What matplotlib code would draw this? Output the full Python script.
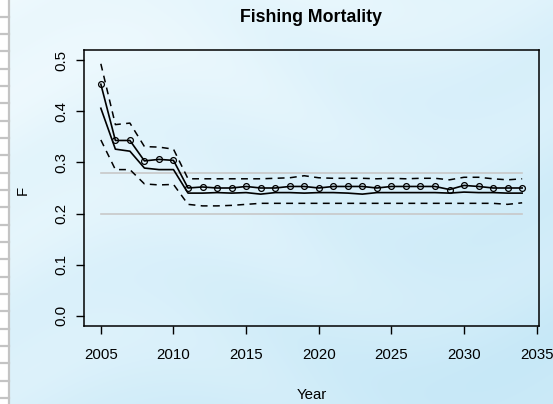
import numpy as np
import matplotlib.pyplot as plt

plt.rcParams['font.family'] = ['Liberation Sans', 'DejaVu Sans']

years = np.arange(2005, 2035)
# median F (points)
f_median = [0.453, 0.343, 0.343, 0.303, 0.306, 0.304,
            0.250, 0.252, 0.250, 0.250, 0.253,
            0.250, 0.250, 0.253, 0.253, 0.250, 0.253, 0.253, 0.253, 0.250, 0.253,
            0.253, 0.253, 0.253, 0.247, 0.255, 0.253, 0.250, 0.250, 0.250]
# second solid line
f_mean = [0.406, 0.326, 0.322, 0.289, 0.286, 0.286,
          0.240, 0.240, 0.241, 0.240, 0.241, 0.238, 0.241, 0.241, 0.240, 0.241,
          0.241, 0.240, 0.238, 0.241, 0.241, 0.241, 0.241, 0.241, 0.240, 0.242,
          0.241, 0.241, 0.240, 0.240]
f_upper = [0.493, 0.374, 0.377, 0.331, 0.330, 0.326,
           0.268, 0.268, 0.268, 0.268, 0.268, 0.268, 0.269, 0.270, 0.274, 0.270,
           0.269, 0.269, 0.269, 0.268, 0.269, 0.268, 0.269, 0.269, 0.266, 0.271,
           0.271, 0.268, 0.266, 0.268]
f_lower = [0.344, 0.286, 0.286, 0.258, 0.256, 0.257,
           0.218, 0.215, 0.215, 0.216, 0.218, 0.220, 0.220, 0.220, 0.220, 0.220,
           0.220, 0.220, 0.220, 0.220, 0.220, 0.220, 0.220, 0.220, 0.220, 0.220,
           0.220, 0.220, 0.218, 0.221]
ref_levels = [0.28, 0.2]

W, H = 553, 404
fig = plt.figure(figsize=(W / 100, H / 100), dpi=100)

# background: pale water-like gradient
bg = fig.add_axes([0, 0, 1, 1])
yy, xx = np.mgrid[0:H, 0:W]
t = 0.55 * yy / H + 0.45 * xx / W
wave = 0.5 + 0.5 * np.sin(yy / 23.0 + 2.5 * np.sin(xx / 90.0))
t = np.clip(t + 0.15 * (wave - 0.5), 0, 1)
light = np.array([0.94, 0.98, 0.995])
dark = np.array([0.78, 0.91, 0.97])
img = light + (dark - light) * t[..., None]
bg.imshow(img, extent=[0, W, H, 0], aspect='auto')
bg.fill_between([0, 7.5], 0, H, color='white')
bg.plot([8.5, 8.5], [0, H], color='#c4c4c4', lw=1.6)
for k in range(24):
    y = 16.7 + 17.33 * k
    bg.plot([0, 8.5], [y, y], color='#c4c4c4', lw=1.6)
bg.set_xlim(0, W)
bg.set_ylim(H, 0)
bg.axis('off')

ax = fig.add_axes([84 / W, 1 - 326 / H, (539 - 84) / W, (326 - 50) / H])
ax.set_facecolor('none')
for lev in ref_levels:
    ax.plot([years[0], years[-1]], [lev, lev], color='#c8c8c8', lw=1.2)
ax.plot(years, f_upper, color='black', lw=1.1, ls=(0, (4.5, 3.5)))
ax.plot(years, f_lower, color='black', lw=1.1, ls=(0, (4.5, 3.5)))
ax.plot(years, f_mean, color='black', lw=1.2)
ax.plot(years, f_median, color='black', lw=1.2, marker='o', ms=4.2,
        mfc='none', mew=0.9)

ax.set_xlim(2003.84, 2035.16)
ax.set_ylim(-0.02, 0.52)
ax.set_xticks([2005, 2010, 2015, 2020, 2025, 2030, 2035])
ax.set_yticks([0.0, 0.1, 0.2, 0.3, 0.4, 0.5])
ax.set_yticklabels(['0.0', '0.1', '0.2', '0.3', '0.4', '0.5'],
                   rotation=90, va='center')
ax.tick_params(direction='out', length=5.5, width=1, labelsize=10.8)
ax.tick_params(axis='x', pad=10)
ax.tick_params(axis='y', pad=6)
for s in ax.spines.values():
    s.set_linewidth(1.1)

fig.text(311 / W, 1 - 17 / H, 'Fishing Mortality', ha='center', va='center',
         fontsize=12.8, fontweight='bold')
fig.text(23 / W, 1 - 190 / H, 'F', ha='center', va='center', rotation=90,
         fontsize=10.8)
fig.text(312 / W, 1 - 395 / H, 'Year', ha='center', va='center', fontsize=10.8)

fig.savefig('out.png', dpi=100)
